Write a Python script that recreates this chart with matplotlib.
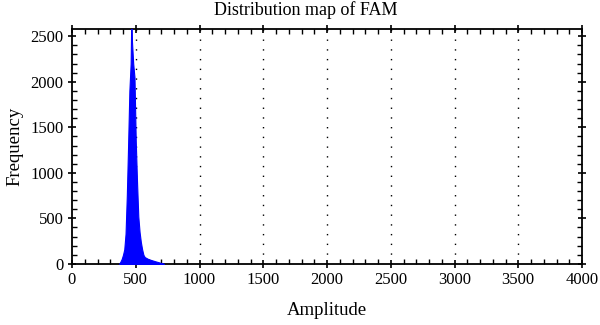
import matplotlib.pyplot as plt
from matplotlib.ticker import MultipleLocator

# amplitude / frequency
amplitude = [370, 380, 390, 400, 410, 420, 430, 440, 450, 460, 465, 470, 480, 490,
             500, 510, 520, 530, 540, 550, 560, 570, 600, 650, 700, 720]
frequency = [0, 25, 55, 100, 160, 330, 750, 1300, 1900, 2200, 2700, 2450, 2200, 2050,
             1350, 900, 520, 350, 240, 160, 100, 75, 52, 30, 10, 0]

x_ticks = [0, 500, 1000, 1500, 2000, 2500, 3000, 3500, 4000]
y_ticks = [0, 500, 1000, 1500, 2000, 2500]

plt.rcParams['font.family'] = ['Liberation Serif', 'DejaVu Serif']

fig = plt.figure(figsize=(6, 3.25), dpi=100, facecolor='white')
ax = fig.add_axes([0.12, 0.188, 0.85, 0.723])

ax.fill_between(amplitude, frequency, color='#0000ff', lw=0.8, zorder=3)

ax.set_xlim(0, 4000)
ax.set_ylim(0, 2580)
ax.set_xticks(x_ticks)
ax.set_yticks(y_ticks)
ax.xaxis.set_minor_locator(MultipleLocator(100))
ax.yaxis.set_minor_locator(MultipleLocator(100))
ax.tick_params(which='major', direction='inout', length=6, width=1.2,
               top=True, right=True, labelsize=12, pad=3)
ax.tick_params(which='minor', direction='in', length=3.5, width=1,
               top=True, right=True)
for s in ax.spines.values():
    s.set_linewidth(1.3)

for x in x_ticks[1:-1]:
    ax.axvline(x, color='black', lw=1, ls=(0, (1, 6)), zorder=1)

fig.text(0.51, 0.955, 'Distribution map of FAM', fontsize=13, ha='center', va='baseline')
ax.set_xlabel('Amplitude', fontsize=13.5, labelpad=10)
ax.set_ylabel('Frequency', fontsize=13.5, labelpad=5)

fig.savefig('out.png', dpi=100)
